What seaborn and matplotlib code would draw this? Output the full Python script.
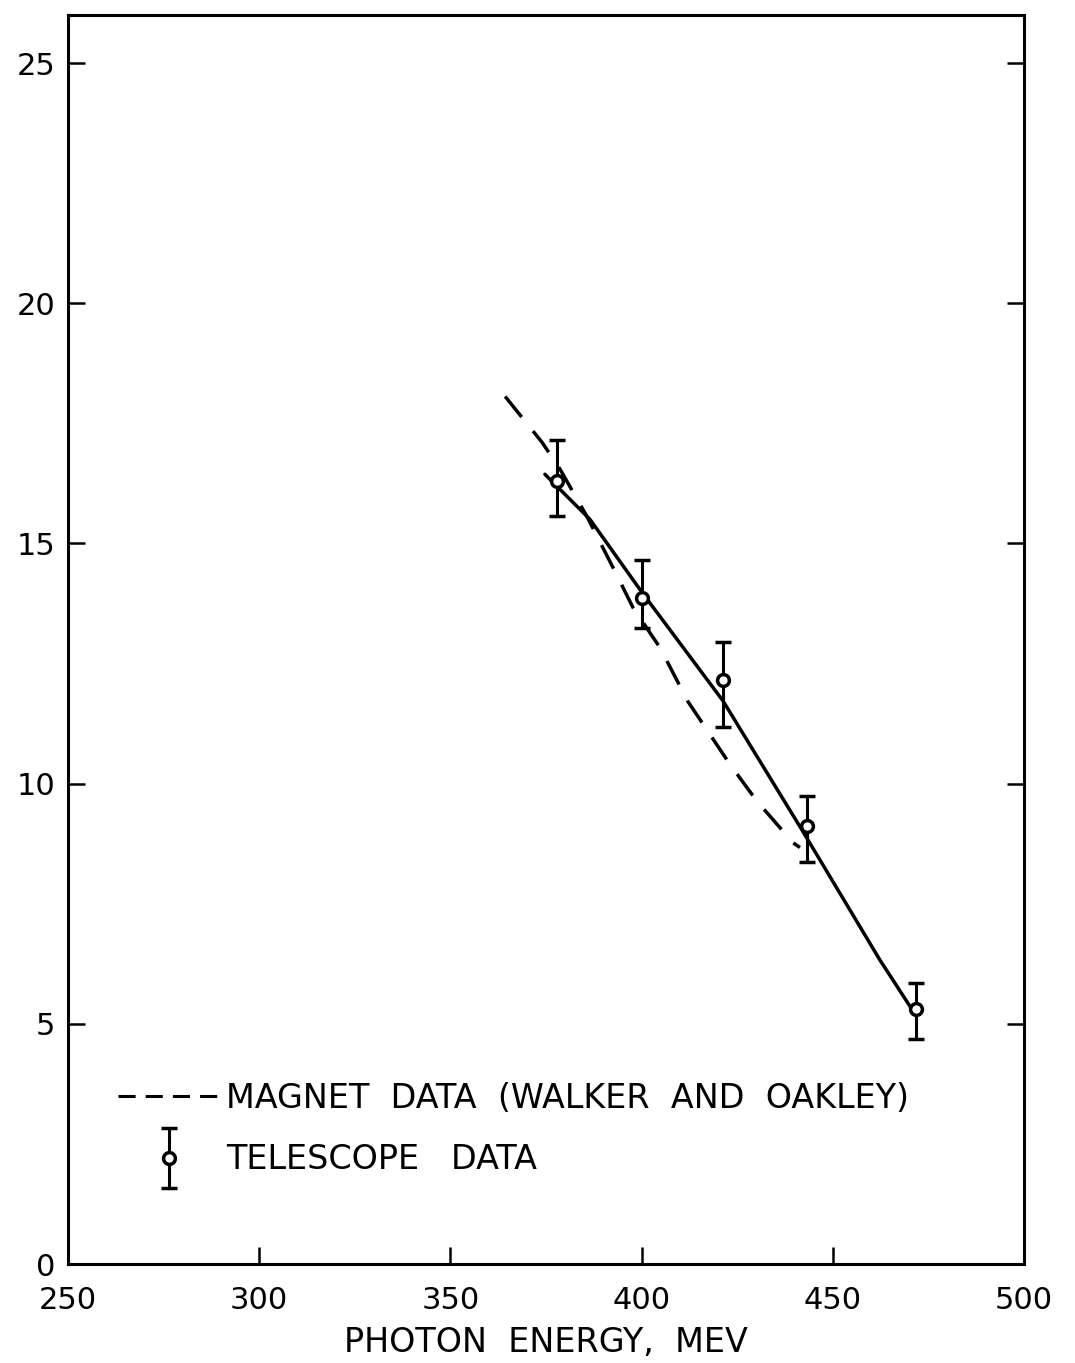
import numpy as np
import pandas as pd
import matplotlib
matplotlib.use("Agg")
import matplotlib.pyplot as plt
import seaborn as sns
from matplotlib.legend_handler import HandlerErrorbar
from matplotlib.lines import Line2D

# ---- data ----
tel_energy = [377.8, 400.2, 421.4, 443.2, 471.7]
tel_value = [16.31, 13.87, 12.15, 9.11, 5.31]
tel_upper = [17.15, 14.65, 12.94, 9.75, 5.86]
tel_lower = [15.57, 13.24, 11.18, 8.37, 4.68]

fit_energy = [374.7, 386.5, 400.1, 421.3, 442.2, 462.3, 470.7]
fit_value = [16.44, 15.50, 13.98, 11.72, 9.00, 6.33, 5.30]

mag_energy = [364.3, 374.0, 378.7, 385.7, 392.5, 397.7, 404.8, 412.1, 423.1, 430.2, 439.6, 441.4]
mag_value = [18.06, 17.10, 16.54, 15.56, 14.50, 13.67, 12.83, 11.71, 10.40, 9.63, 8.77, 8.67]

x_ticks = [250, 300, 350, 400, 450, 500]
y_ticks = [0, 5, 10, 15, 20, 25]
x_label = "PHOTON  ENERGY,  MEV"
label_magnet = "MAGNET  DATA  (WALKER  AND  OAKLEY)"
label_telescope = "TELESCOPE   DATA"

sns.set_theme(style="white")
plt.rcParams["font.family"] = ["DejaVu Sans"]
plt.rcParams["text.color"] = "black"

fig = plt.figure(figsize=(10.75, 13.63), dpi=100)
ax = fig.add_axes([0.0633, 0.0726, 0.8893, 0.9164])

fit_df = pd.DataFrame({"energy": fit_energy, "value": fit_value})
mag_df = pd.DataFrame({"energy": mag_energy, "value": mag_value})

sns.lineplot(data=fit_df, x="energy", y="value", sort=False, estimator=None,
             color="black", linewidth=2.5, ax=ax, zorder=2)
sns.lineplot(data=mag_df, x="energy", y="value", sort=False, estimator=None,
             color="black", linewidth=2.5, ax=ax, zorder=2)
ax.lines[-1].set_dashes([7.6, 5.2])

yerr = [np.array(tel_value) - np.array(tel_lower),
        np.array(tel_upper) - np.array(tel_value)]
err = ax.errorbar(tel_energy, tel_value, yerr=yerr, fmt="o", ms=8.5,
                  mfc="white", mec="black", mew=2.5, ecolor="black",
                  elinewidth=2.2, capsize=6, capthick=2.2, zorder=3)

ax.set_xlim(250, 500)
ax.set_ylim(0, 26)
ax.set_xticks(x_ticks)
ax.set_yticks(y_ticks)
ax.set_xlabel(x_label, fontsize=24, labelpad=8, color="black")
ax.set_ylabel("")

for sp in ax.spines.values():
    sp.set_visible(True)
    sp.set_color("black")
    sp.set_linewidth(2.2)

ax.tick_params(axis="both", direction="in", length=12, width=1.8,
               labelsize=22, colors="black")
ax.tick_params(axis="y", left=True, right=True, pad=9)
ax.tick_params(axis="x", bottom=True, top=False, pad=16)

dash_proxy = Line2D([], [], color="black", linewidth=2.2, dashes=[5.6, 3.3])
leg = ax.legend([dash_proxy, err], [label_magnet, label_telescope],
                handler_map={type(err): HandlerErrorbar(yerr_size=0.9)},
                loc="center left", bbox_to_anchor=(0.052, 0.108),
                frameon=False, fontsize=24, handlelength=3.1,
                handletextpad=0.15, labelspacing=0.85, borderpad=0,
                borderaxespad=0, labelcolor="black")

fig.savefig("out.png", dpi=100)
